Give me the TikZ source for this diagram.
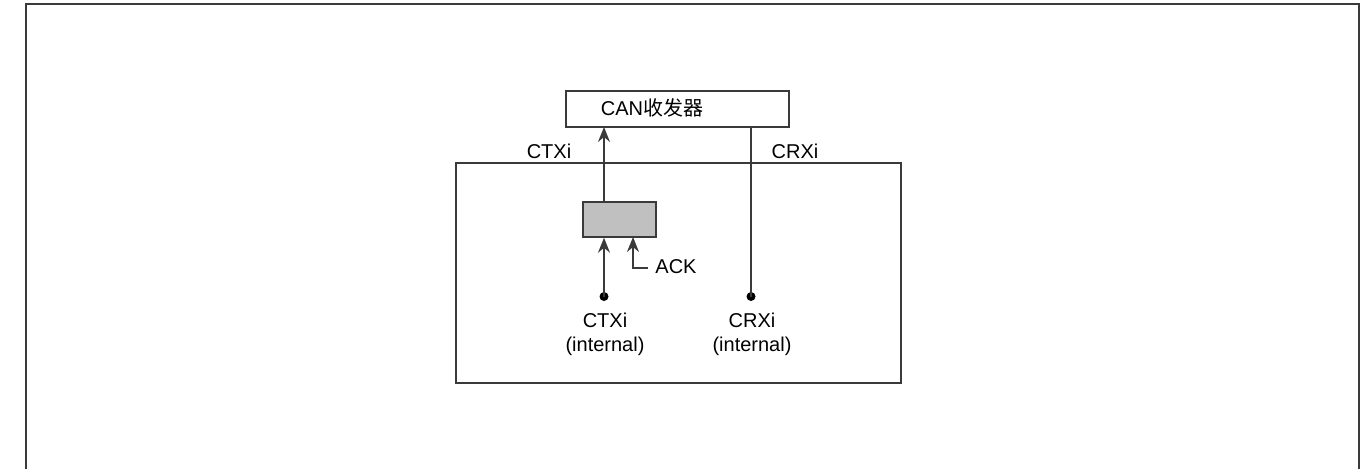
\documentclass[tikz,border=0pt]{standalone}
\usepackage{fontspec}
\setmainfont{Liberation Sans}
\newfontfamily\cjk{Noto Sans CJK SC}
\usetikzlibrary{arrows.meta}
\definecolor{linec}{HTML}{3A3A3A}
\definecolor{boxgray}{HTML}{C0C0C0}
\tikzset{
  wire/.style={draw=linec, line width=1.5pt},
  arr/.style={wire, -{Stealth[length=15pt,width=12pt,inset=5pt]}},
  box/.style={draw=linec, line width=1.5pt},
  lbl/.style={font=\fontsize{20}{24}\selectfont, text=black, inner sep=0pt, anchor=base},
  pin/.style={circle, fill=black, inner sep=0pt, minimum size=9pt}
}
\begin{document}
\begin{tikzpicture}[x=1pt,y=-1pt]
\useasboundingbox (0,0) rectangle (1370,469);
% outer frame (open at bottom)
\draw[draw=linec, line width=2.2pt] (26,469) -- (26,4) -- (1359,4) -- (1359,469);
% boxes
\draw[box] (566,91) rectangle (789,127);
\draw[box] (456,163) rectangle (901,383);
\node[box, fill=boxgray, minimum width=73pt, minimum height=35pt, inner sep=0pt] (g) at (619.5,219.5) {};
\coordinate (canbot1) at (604,127);
\coordinate (canbot2) at (751,127);
% texts
\node[lbl] (cantxt) at (652,115) {CAN{\cjk 收发器}};
\node[lbl] (ctxo) at (549,158) {CTXi};
\node[lbl] (crxo) at (795,158) {CRXi};
\node[lbl] (ack) at (676,273) {ACK};
\node[lbl, align=center] (ctxi) at (605,351) {CTXi\\[0pt](internal)};
\node[lbl, align=center] (crxi) at (752,351) {CRXi\\[0pt](internal)};
% pins
\node[pin] (p1) at (604,296.5) {};
\node[pin] (p2) at (751,296.5) {};
% connectors
\draw[arr] (g.north -| canbot1) -- (canbot1);
\draw[wire] (canbot2) -- (p2.center);
\draw[arr] (p1.center) -- (p1.center |- g.south);
\coordinate (ackend) at (648,268);
\draw[arr] (ackend) -- (633,268) -- (633,237);
\end{tikzpicture}
\end{document}
